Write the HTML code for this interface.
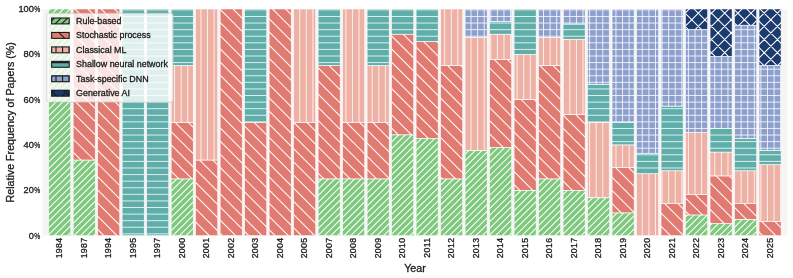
<!DOCTYPE html><html><head><meta charset="utf-8"><title>Relative Frequency of Papers by Year</title>
<style>html,body{margin:0;padding:0;background:#fff}svg{display:block}text{font-family:"Liberation Sans", sans-serif;fill:#1a1a1a;stroke:#1a1a1a;stroke-width:0.3px;stroke-linejoin:round}</style></head><body>
<svg width="793" height="278" viewBox="0 0 793 278">
<rect width="793" height="278" fill="#fff"/>
<rect x="42.3" y="9" width="744.9" height="226.6" fill="#f5f5f5"/>
<defs>
<clipPath id="c0"><rect x="48.7" y="9" width="22" height="226.6"/><rect x="73.2" y="160.07" width="22" height="75.53"/><rect x="171.18" y="178.95" width="22" height="56.65"/><rect x="318.14" y="178.95" width="22" height="56.65"/><rect x="342.64" y="178.95" width="22" height="56.65"/><rect x="367.13" y="178.95" width="22" height="56.65"/><rect x="391.63" y="134.89" width="22" height="100.71"/><rect x="416.12" y="138.49" width="22" height="97.11"/><rect x="440.62" y="178.95" width="22" height="56.65"/><rect x="465.12" y="150.62" width="22" height="84.97"/><rect x="489.61" y="147.48" width="22" height="88.12"/><rect x="514.11" y="190.28" width="22" height="45.32"/><rect x="538.6" y="178.95" width="22" height="56.65"/><rect x="563.1" y="190.28" width="22" height="45.32"/><rect x="587.59" y="197.83" width="22" height="37.77"/><rect x="612.09" y="212.94" width="22" height="22.66"/><rect x="685.57" y="215" width="22" height="20.6"/><rect x="710.07" y="223.67" width="22" height="11.93"/><rect x="734.56" y="219.41" width="22" height="16.19"/></clipPath>
<clipPath id="c1"><rect x="73.2" y="9" width="22" height="151.07"/><rect x="97.69" y="9" width="22" height="226.6"/><rect x="171.18" y="122.3" width="22" height="56.65"/><rect x="195.67" y="160.07" width="22" height="75.53"/><rect x="220.17" y="9" width="22" height="226.6"/><rect x="244.66" y="122.3" width="22" height="113.3"/><rect x="269.16" y="9" width="22" height="226.6"/><rect x="293.65" y="122.3" width="22" height="113.3"/><rect x="318.14" y="65.65" width="22" height="113.3"/><rect x="342.64" y="122.3" width="22" height="56.65"/><rect x="367.13" y="122.3" width="22" height="56.65"/><rect x="391.63" y="34.18" width="22" height="100.71"/><rect x="416.12" y="41.37" width="22" height="97.11"/><rect x="440.62" y="65.65" width="22" height="113.3"/><rect x="489.61" y="59.36" width="22" height="88.12"/><rect x="514.11" y="99.64" width="22" height="90.64"/><rect x="538.6" y="65.65" width="22" height="113.3"/><rect x="563.1" y="114.75" width="22" height="75.53"/><rect x="612.09" y="167.62" width="22" height="45.32"/><rect x="661.08" y="203.23" width="22" height="32.37"/><rect x="685.57" y="194.4" width="22" height="20.6"/><rect x="710.07" y="175.97" width="22" height="47.71"/><rect x="734.56" y="203.23" width="22" height="16.19"/><rect x="759.06" y="221.44" width="22" height="14.16"/></clipPath>
<clipPath id="c2"><rect x="171.18" y="65.65" width="22" height="56.65"/><rect x="195.67" y="9" width="22" height="151.07"/><rect x="293.65" y="9" width="22" height="113.3"/><rect x="342.64" y="9" width="22" height="113.3"/><rect x="367.13" y="65.65" width="22" height="56.65"/><rect x="440.62" y="9" width="22" height="56.65"/><rect x="465.12" y="37.32" width="22" height="113.3"/><rect x="489.61" y="34.18" width="22" height="25.18"/><rect x="514.11" y="54.32" width="22" height="45.32"/><rect x="538.6" y="37.32" width="22" height="28.33"/><rect x="563.1" y="39.21" width="22" height="75.53"/><rect x="587.59" y="122.3" width="22" height="75.53"/><rect x="612.09" y="144.96" width="22" height="22.66"/><rect x="636.58" y="173.8" width="22" height="61.8"/><rect x="661.08" y="170.86" width="22" height="32.37"/><rect x="685.57" y="132.6" width="22" height="61.8"/><rect x="710.07" y="152.12" width="22" height="23.85"/><rect x="734.56" y="170.86" width="22" height="32.37"/><rect x="759.06" y="164.79" width="22" height="56.65"/></clipPath>
<clipPath id="c3"><rect x="122.19" y="9" width="22" height="226.6"/><rect x="146.68" y="9" width="22" height="226.6"/><rect x="171.18" y="9" width="22" height="56.65"/><rect x="244.66" y="9" width="22" height="113.3"/><rect x="318.14" y="9" width="22" height="56.65"/><rect x="367.13" y="9" width="22" height="56.65"/><rect x="391.63" y="9" width="22" height="25.18"/><rect x="416.12" y="9" width="22" height="32.37"/><rect x="489.61" y="21.59" width="22" height="12.59"/><rect x="514.11" y="9" width="22" height="45.32"/><rect x="563.1" y="24.11" width="22" height="15.11"/><rect x="587.59" y="84.53" width="22" height="37.77"/><rect x="612.09" y="122.3" width="22" height="22.66"/><rect x="636.58" y="153.2" width="22" height="20.6"/><rect x="661.08" y="106.11" width="22" height="64.74"/><rect x="710.07" y="128.26" width="22" height="23.85"/><rect x="734.56" y="138.49" width="22" height="32.37"/><rect x="759.06" y="150.62" width="22" height="14.16"/></clipPath>
<clipPath id="c4"><rect x="465.12" y="9" width="22" height="28.32"/><rect x="489.61" y="9" width="22" height="12.59"/><rect x="538.6" y="9" width="22" height="28.32"/><rect x="563.1" y="9" width="22" height="15.11"/><rect x="587.59" y="9" width="22" height="75.53"/><rect x="612.09" y="9" width="22" height="113.3"/><rect x="636.58" y="9" width="22" height="144.2"/><rect x="661.08" y="9" width="22" height="97.11"/><rect x="685.57" y="29.6" width="22" height="103"/><rect x="710.07" y="56.71" width="22" height="71.56"/><rect x="734.56" y="25.19" width="22" height="113.3"/><rect x="759.06" y="65.65" width="22" height="84.97"/></clipPath>
<clipPath id="c5"><rect x="685.57" y="9" width="22" height="20.6"/><rect x="710.07" y="9" width="22" height="47.71"/><rect x="734.56" y="9" width="22" height="16.19"/><rect x="759.06" y="9" width="22" height="56.65"/></clipPath>
</defs>
<g>
<rect x="48.7" y="9" width="22" height="226.6" fill="#7fc97f"/>
<rect x="73.2" y="160.07" width="22" height="75.53" fill="#7fc97f"/>
<rect x="171.18" y="178.95" width="22" height="56.65" fill="#7fc97f"/>
<rect x="318.14" y="178.95" width="22" height="56.65" fill="#7fc97f"/>
<rect x="342.64" y="178.95" width="22" height="56.65" fill="#7fc97f"/>
<rect x="367.13" y="178.95" width="22" height="56.65" fill="#7fc97f"/>
<rect x="391.63" y="134.89" width="22" height="100.71" fill="#7fc97f"/>
<rect x="416.12" y="138.49" width="22" height="97.11" fill="#7fc97f"/>
<rect x="440.62" y="178.95" width="22" height="56.65" fill="#7fc97f"/>
<rect x="465.12" y="150.62" width="22" height="84.97" fill="#7fc97f"/>
<rect x="489.61" y="147.48" width="22" height="88.12" fill="#7fc97f"/>
<rect x="514.11" y="190.28" width="22" height="45.32" fill="#7fc97f"/>
<rect x="538.6" y="178.95" width="22" height="56.65" fill="#7fc97f"/>
<rect x="563.1" y="190.28" width="22" height="45.32" fill="#7fc97f"/>
<rect x="587.59" y="197.83" width="22" height="37.77" fill="#7fc97f"/>
<rect x="612.09" y="212.94" width="22" height="22.66" fill="#7fc97f"/>
<rect x="685.57" y="215" width="22" height="20.6" fill="#7fc97f"/>
<rect x="710.07" y="223.67" width="22" height="11.93" fill="#7fc97f"/>
<rect x="734.56" y="219.41" width="22" height="16.19" fill="#7fc97f"/>
<g clip-path="url(#c0)"><path d="M42.3 -2.77L787.2 -747.67M42.3 3.81L787.2 -741.09M42.3 10.4L787.2 -734.5M42.3 16.99L787.2 -727.91M42.3 23.58L787.2 -721.32M42.3 30.17L787.2 -714.73M42.3 36.75L787.2 -708.15M42.3 43.34L787.2 -701.56M42.3 49.93L787.2 -694.97M42.3 56.52L787.2 -688.38M42.3 63.11L787.2 -681.79M42.3 69.69L787.2 -675.21M42.3 76.28L787.2 -668.62M42.3 82.87L787.2 -662.03M42.3 89.46L787.2 -655.44M42.3 96.04L787.2 -648.86M42.3 102.63L787.2 -642.27M42.3 109.22L787.2 -635.68M42.3 115.81L787.2 -629.09M42.3 122.4L787.2 -622.5M42.3 128.98L787.2 -615.92M42.3 135.57L787.2 -609.33M42.3 142.16L787.2 -602.74M42.3 148.75L787.2 -596.15M42.3 155.33L787.2 -589.57M42.3 161.92L787.2 -582.98M42.3 168.51L787.2 -576.39M42.3 175.1L787.2 -569.8M42.3 181.69L787.2 -563.21M42.3 188.27L787.2 -556.63M42.3 194.86L787.2 -550.04M42.3 201.45L787.2 -543.45M42.3 208.04L787.2 -536.86M42.3 214.63L787.2 -530.27M42.3 221.21L787.2 -523.69M42.3 227.8L787.2 -517.1M42.3 234.39L787.2 -510.51M42.3 240.98L787.2 -503.92M42.3 247.56L787.2 -497.34M42.3 254.15L787.2 -490.75M42.3 260.74L787.2 -484.16M42.3 267.33L787.2 -477.57M42.3 273.92L787.2 -470.98M42.3 280.5L787.2 -464.4M42.3 287.09L787.2 -457.81M42.3 293.68L787.2 -451.22M42.3 300.27L787.2 -444.63M42.3 306.86L787.2 -438.04M42.3 313.44L787.2 -431.46M42.3 320.03L787.2 -424.87M42.3 326.62L787.2 -418.28M42.3 333.21L787.2 -411.69M42.3 339.79L787.2 -405.11M42.3 346.38L787.2 -398.52M42.3 352.97L787.2 -391.93M42.3 359.56L787.2 -385.34M42.3 366.15L787.2 -378.75M42.3 372.73L787.2 -372.17M42.3 379.32L787.2 -365.58M42.3 385.91L787.2 -358.99M42.3 392.5L787.2 -352.4M42.3 399.08L787.2 -345.82M42.3 405.67L787.2 -339.23M42.3 412.26L787.2 -332.64M42.3 418.85L787.2 -326.05M42.3 425.44L787.2 -319.46M42.3 432.02L787.2 -312.88M42.3 438.61L787.2 -306.29M42.3 445.2L787.2 -299.7M42.3 451.79L787.2 -293.11M42.3 458.38L787.2 -286.52M42.3 464.96L787.2 -279.94M42.3 471.55L787.2 -273.35M42.3 478.14L787.2 -266.76M42.3 484.73L787.2 -260.17M42.3 491.31L787.2 -253.59M42.3 497.9L787.2 -247M42.3 504.49L787.2 -240.41M42.3 511.08L787.2 -233.82M42.3 517.67L787.2 -227.23M42.3 524.25L787.2 -220.65M42.3 530.84L787.2 -214.06M42.3 537.43L787.2 -207.47M42.3 544.02L787.2 -200.88M42.3 550.61L787.2 -194.3M42.3 557.19L787.2 -187.71M42.3 563.78L787.2 -181.12M42.3 570.37L787.2 -174.53M42.3 576.96L787.2 -167.94M42.3 583.54L787.2 -161.36M42.3 590.13L787.2 -154.77M42.3 596.72L787.2 -148.18M42.3 603.31L787.2 -141.59M42.3 609.9L787.2 -135M42.3 616.48L787.2 -128.42M42.3 623.07L787.2 -121.83M42.3 629.66L787.2 -115.24M42.3 636.25L787.2 -108.65M42.3 642.83L787.2 -102.07M42.3 649.42L787.2 -95.48M42.3 656.01L787.2 -88.89M42.3 662.6L787.2 -82.3M42.3 669.19L787.2 -75.71M42.3 675.77L787.2 -69.13M42.3 682.36L787.2 -62.54M42.3 688.95L787.2 -55.95M42.3 695.54L787.2 -49.36M42.3 702.13L787.2 -42.77M42.3 708.71L787.2 -36.19M42.3 715.3L787.2 -29.6M42.3 721.89L787.2 -23.01M42.3 728.48L787.2 -16.42M42.3 735.06L787.2 -9.84M42.3 741.65L787.2 -3.25M42.3 748.24L787.2 3.34M42.3 754.83L787.2 9.93M42.3 761.42L787.2 16.52M42.3 768L787.2 23.1M42.3 774.59L787.2 29.69M42.3 781.18L787.2 36.28M42.3 787.77L787.2 42.87M42.3 794.35L787.2 49.45M42.3 800.94L787.2 56.04M42.3 807.53L787.2 62.63M42.3 814.12L787.2 69.22M42.3 820.71L787.2 75.81M42.3 827.29L787.2 82.39M42.3 833.88L787.2 88.98M42.3 840.47L787.2 95.57M42.3 847.06L787.2 102.16M42.3 853.65L787.2 108.75M42.3 860.23L787.2 115.33M42.3 866.82L787.2 121.92M42.3 873.41L787.2 128.51M42.3 880L787.2 135.1M42.3 886.58L787.2 141.68M42.3 893.17L787.2 148.27M42.3 899.76L787.2 154.86M42.3 906.35L787.2 161.45M42.3 912.94L787.2 168.04M42.3 919.52L787.2 174.62M42.3 926.11L787.2 181.21M42.3 932.7L787.2 187.8M42.3 939.29L787.2 194.39M42.3 945.88L787.2 200.97M42.3 952.46L787.2 207.56M42.3 959.05L787.2 214.15M42.3 965.64L787.2 220.74M42.3 972.23L787.2 227.33M42.3 978.81L787.2 233.91M42.3 985.4L787.2 240.5M42.3 991.99L787.2 247.09" stroke="#fff" stroke-width="1.05" fill="none"/></g>
</g>
<g>
<rect x="73.2" y="9" width="22" height="151.07" fill="#e17b71"/>
<rect x="97.69" y="9" width="22" height="226.6" fill="#e17b71"/>
<rect x="171.18" y="122.3" width="22" height="56.65" fill="#e17b71"/>
<rect x="195.67" y="160.07" width="22" height="75.53" fill="#e17b71"/>
<rect x="220.17" y="9" width="22" height="226.6" fill="#e17b71"/>
<rect x="244.66" y="122.3" width="22" height="113.3" fill="#e17b71"/>
<rect x="269.16" y="9" width="22" height="226.6" fill="#e17b71"/>
<rect x="293.65" y="122.3" width="22" height="113.3" fill="#e17b71"/>
<rect x="318.14" y="65.65" width="22" height="113.3" fill="#e17b71"/>
<rect x="342.64" y="122.3" width="22" height="56.65" fill="#e17b71"/>
<rect x="367.13" y="122.3" width="22" height="56.65" fill="#e17b71"/>
<rect x="391.63" y="34.18" width="22" height="100.71" fill="#e17b71"/>
<rect x="416.12" y="41.37" width="22" height="97.11" fill="#e17b71"/>
<rect x="440.62" y="65.65" width="22" height="113.3" fill="#e17b71"/>
<rect x="489.61" y="59.36" width="22" height="88.12" fill="#e17b71"/>
<rect x="514.11" y="99.64" width="22" height="90.64" fill="#e17b71"/>
<rect x="538.6" y="65.65" width="22" height="113.3" fill="#e17b71"/>
<rect x="563.1" y="114.75" width="22" height="75.53" fill="#e17b71"/>
<rect x="612.09" y="167.62" width="22" height="45.32" fill="#e17b71"/>
<rect x="661.08" y="203.23" width="22" height="32.37" fill="#e17b71"/>
<rect x="685.57" y="194.4" width="22" height="20.6" fill="#e17b71"/>
<rect x="710.07" y="175.97" width="22" height="47.71" fill="#e17b71"/>
<rect x="734.56" y="203.23" width="22" height="16.19" fill="#e17b71"/>
<rect x="759.06" y="221.44" width="22" height="14.16" fill="#e17b71"/>
<g clip-path="url(#c1)"><path d="M42.3 253.11L787.2 998.01M42.3 239.94L787.2 984.84M42.3 226.76L787.2 971.66M42.3 213.58L787.2 958.48M42.3 200.41L787.2 945.31M42.3 187.23L787.2 932.13M42.3 174.06L787.2 918.96M42.3 160.88L787.2 905.78M42.3 147.71L787.2 892.61M42.3 134.53L787.2 879.43M42.3 121.35L787.2 866.25M42.3 108.18L787.2 853.08M42.3 95L787.2 839.9M42.3 81.83L787.2 826.73M42.3 68.65L787.2 813.55M42.3 55.48L787.2 800.38M42.3 42.3L787.2 787.2M42.3 29.12L787.2 774.02M42.3 15.95L787.2 760.85M42.3 2.77L787.2 747.67M42.3 -10.4L787.2 734.5M42.3 -23.58L787.2 721.32M42.3 -36.75L787.2 708.15M42.3 -49.93L787.2 694.97M42.3 -63.11L787.2 681.79M42.3 -76.28L787.2 668.62M42.3 -89.46L787.2 655.44M42.3 -102.63L787.2 642.27M42.3 -115.81L787.2 629.09M42.3 -128.98L787.2 615.92M42.3 -142.16L787.2 602.74M42.3 -155.33L787.2 589.57M42.3 -168.51L787.2 576.39M42.3 -181.69L787.2 563.21M42.3 -194.86L787.2 550.04M42.3 -208.04L787.2 536.86M42.3 -221.21L787.2 523.69M42.3 -234.39L787.2 510.51M42.3 -247.56L787.2 497.34M42.3 -260.74L787.2 484.16M42.3 -273.92L787.2 470.98M42.3 -287.09L787.2 457.81M42.3 -300.27L787.2 444.63M42.3 -313.44L787.2 431.46M42.3 -326.62L787.2 418.28M42.3 -339.79L787.2 405.11M42.3 -352.97L787.2 391.93M42.3 -366.15L787.2 378.75M42.3 -379.32L787.2 365.58M42.3 -392.5L787.2 352.4M42.3 -405.67L787.2 339.23M42.3 -418.85L787.2 326.05M42.3 -432.02L787.2 312.88M42.3 -445.2L787.2 299.7M42.3 -458.38L787.2 286.52M42.3 -471.55L787.2 273.35M42.3 -484.73L787.2 260.17M42.3 -497.9L787.2 247M42.3 -511.08L787.2 233.82M42.3 -524.25L787.2 220.65M42.3 -537.43L787.2 207.47M42.3 -550.61L787.2 194.3M42.3 -563.78L787.2 181.12M42.3 -576.96L787.2 167.94M42.3 -590.13L787.2 154.77M42.3 -603.31L787.2 141.59M42.3 -616.48L787.2 128.42M42.3 -629.66L787.2 115.24M42.3 -642.83L787.2 102.07M42.3 -656.01L787.2 88.89M42.3 -669.19L787.2 75.71M42.3 -682.36L787.2 62.54M42.3 -695.54L787.2 49.36M42.3 -708.71L787.2 36.19M42.3 -721.89L787.2 23.01M42.3 -735.06L787.2 9.84M42.3 -748.24L787.2 -3.34M42.3 -761.42L787.2 -16.52" stroke="#fff" stroke-width="1.05" fill="none"/></g>
</g>
<g>
<rect x="171.18" y="65.65" width="22" height="56.65" fill="#eeb1a5"/>
<rect x="195.67" y="9" width="22" height="151.07" fill="#eeb1a5"/>
<rect x="293.65" y="9" width="22" height="113.3" fill="#eeb1a5"/>
<rect x="342.64" y="9" width="22" height="113.3" fill="#eeb1a5"/>
<rect x="367.13" y="65.65" width="22" height="56.65" fill="#eeb1a5"/>
<rect x="440.62" y="9" width="22" height="56.65" fill="#eeb1a5"/>
<rect x="465.12" y="37.32" width="22" height="113.3" fill="#eeb1a5"/>
<rect x="489.61" y="34.18" width="22" height="25.18" fill="#eeb1a5"/>
<rect x="514.11" y="54.32" width="22" height="45.32" fill="#eeb1a5"/>
<rect x="538.6" y="37.32" width="22" height="28.33" fill="#eeb1a5"/>
<rect x="563.1" y="39.21" width="22" height="75.53" fill="#eeb1a5"/>
<rect x="587.59" y="122.3" width="22" height="75.53" fill="#eeb1a5"/>
<rect x="612.09" y="144.96" width="22" height="22.66" fill="#eeb1a5"/>
<rect x="636.58" y="173.8" width="22" height="61.8" fill="#eeb1a5"/>
<rect x="661.08" y="170.86" width="22" height="32.37" fill="#eeb1a5"/>
<rect x="685.57" y="132.6" width="22" height="61.8" fill="#eeb1a5"/>
<rect x="710.07" y="152.12" width="22" height="23.85" fill="#eeb1a5"/>
<rect x="734.56" y="170.86" width="22" height="32.37" fill="#eeb1a5"/>
<rect x="759.06" y="164.79" width="22" height="56.65" fill="#eeb1a5"/>
<g clip-path="url(#c2)"><path d="M42.82 9L42.82 235.6M49.41 9L49.41 235.6M56 9L56 235.6M62.58 9L62.58 235.6M69.17 9L69.17 235.6M75.76 9L75.76 235.6M82.35 9L82.35 235.6M88.94 9L88.94 235.6M95.52 9L95.52 235.6M102.11 9L102.11 235.6M108.7 9L108.7 235.6M115.29 9L115.29 235.6M121.87 9L121.87 235.6M128.46 9L128.46 235.6M135.05 9L135.05 235.6M141.64 9L141.64 235.6M148.23 9L148.23 235.6M154.81 9L154.81 235.6M161.4 9L161.4 235.6M167.99 9L167.99 235.6M174.58 9L174.58 235.6M181.17 9L181.17 235.6M187.75 9L187.75 235.6M194.34 9L194.34 235.6M200.93 9L200.93 235.6M207.52 9L207.52 235.6M214.1 9L214.1 235.6M220.69 9L220.69 235.6M227.28 9L227.28 235.6M233.87 9L233.87 235.6M240.46 9L240.46 235.6M247.04 9L247.04 235.6M253.63 9L253.63 235.6M260.22 9L260.22 235.6M266.81 9L266.81 235.6M273.4 9L273.4 235.6M279.98 9L279.98 235.6M286.57 9L286.57 235.6M293.16 9L293.16 235.6M299.75 9L299.75 235.6M306.33 9L306.33 235.6M312.92 9L312.92 235.6M319.51 9L319.51 235.6M326.1 9L326.1 235.6M332.69 9L332.69 235.6M339.27 9L339.27 235.6M345.86 9L345.86 235.6M352.45 9L352.45 235.6M359.04 9L359.04 235.6M365.62 9L365.62 235.6M372.21 9L372.21 235.6M378.8 9L378.8 235.6M385.39 9L385.39 235.6M391.98 9L391.98 235.6M398.56 9L398.56 235.6M405.15 9L405.15 235.6M411.74 9L411.74 235.6M418.33 9L418.33 235.6M424.92 9L424.92 235.6M431.5 9L431.5 235.6M438.09 9L438.09 235.6M444.68 9L444.68 235.6M451.27 9L451.27 235.6M457.85 9L457.85 235.6M464.44 9L464.44 235.6M471.03 9L471.03 235.6M477.62 9L477.62 235.6M484.21 9L484.21 235.6M490.79 9L490.79 235.6M497.38 9L497.38 235.6M503.97 9L503.97 235.6M510.56 9L510.56 235.6M517.14 9L517.14 235.6M523.73 9L523.73 235.6M530.32 9L530.32 235.6M536.91 9L536.91 235.6M543.5 9L543.5 235.6M550.08 9L550.08 235.6M556.67 9L556.67 235.6M563.26 9L563.26 235.6M569.85 9L569.85 235.6M576.44 9L576.44 235.6M583.02 9L583.02 235.6M589.61 9L589.61 235.6M596.2 9L596.2 235.6M602.79 9L602.79 235.6M609.37 9L609.37 235.6M615.96 9L615.96 235.6M622.55 9L622.55 235.6M629.14 9L629.14 235.6M635.73 9L635.73 235.6M642.31 9L642.31 235.6M648.9 9L648.9 235.6M655.49 9L655.49 235.6M662.08 9L662.08 235.6M668.67 9L668.67 235.6M675.25 9L675.25 235.6M681.84 9L681.84 235.6M688.43 9L688.43 235.6M695.02 9L695.02 235.6M701.6 9L701.6 235.6M708.19 9L708.19 235.6M714.78 9L714.78 235.6M721.37 9L721.37 235.6M727.96 9L727.96 235.6M734.54 9L734.54 235.6M741.13 9L741.13 235.6M747.72 9L747.72 235.6M754.31 9L754.31 235.6M760.89 9L760.89 235.6M767.48 9L767.48 235.6M774.07 9L774.07 235.6M780.66 9L780.66 235.6M787.25 9L787.25 235.6" stroke="#fff" stroke-width="0.8" fill="none"/></g>
</g>
<g>
<rect x="122.19" y="9" width="22" height="226.6" fill="#5faeaa"/>
<rect x="146.68" y="9" width="22" height="226.6" fill="#5faeaa"/>
<rect x="171.18" y="9" width="22" height="56.65" fill="#5faeaa"/>
<rect x="244.66" y="9" width="22" height="113.3" fill="#5faeaa"/>
<rect x="318.14" y="9" width="22" height="56.65" fill="#5faeaa"/>
<rect x="367.13" y="9" width="22" height="56.65" fill="#5faeaa"/>
<rect x="391.63" y="9" width="22" height="25.18" fill="#5faeaa"/>
<rect x="416.12" y="9" width="22" height="32.37" fill="#5faeaa"/>
<rect x="489.61" y="21.59" width="22" height="12.59" fill="#5faeaa"/>
<rect x="514.11" y="9" width="22" height="45.32" fill="#5faeaa"/>
<rect x="563.1" y="24.11" width="22" height="15.11" fill="#5faeaa"/>
<rect x="587.59" y="84.53" width="22" height="37.77" fill="#5faeaa"/>
<rect x="612.09" y="122.3" width="22" height="22.66" fill="#5faeaa"/>
<rect x="636.58" y="153.2" width="22" height="20.6" fill="#5faeaa"/>
<rect x="661.08" y="106.11" width="22" height="64.74" fill="#5faeaa"/>
<rect x="710.07" y="128.26" width="22" height="23.85" fill="#5faeaa"/>
<rect x="734.56" y="138.49" width="22" height="32.37" fill="#5faeaa"/>
<rect x="759.06" y="150.62" width="22" height="14.16" fill="#5faeaa"/>
<g clip-path="url(#c3)"><path d="M42.3 233.87L787.2 233.87M42.3 227.28L787.2 227.28M42.3 220.69L787.2 220.69M42.3 214.1L787.2 214.1M42.3 207.52L787.2 207.52M42.3 200.93L787.2 200.93M42.3 194.34L787.2 194.34M42.3 187.75L787.2 187.75M42.3 181.17L787.2 181.17M42.3 174.58L787.2 174.58M42.3 167.99L787.2 167.99M42.3 161.4L787.2 161.4M42.3 154.81L787.2 154.81M42.3 148.23L787.2 148.23M42.3 141.64L787.2 141.64M42.3 135.05L787.2 135.05M42.3 128.46L787.2 128.46M42.3 121.87L787.2 121.87M42.3 115.29L787.2 115.29M42.3 108.7L787.2 108.7M42.3 102.11L787.2 102.11M42.3 95.52L787.2 95.52M42.3 88.94L787.2 88.94M42.3 82.35L787.2 82.35M42.3 75.76L787.2 75.76M42.3 69.17L787.2 69.17M42.3 62.58L787.2 62.58M42.3 56L787.2 56M42.3 49.41L787.2 49.41M42.3 42.82L787.2 42.82M42.3 36.23L787.2 36.23M42.3 29.65L787.2 29.65M42.3 23.06L787.2 23.06M42.3 16.47L787.2 16.47M42.3 9.88L787.2 9.88" stroke="#fff" stroke-width="0.8" fill="none"/></g>
</g>
<g>
<rect x="465.12" y="9" width="22" height="28.32" fill="#8da0cd"/>
<rect x="489.61" y="9" width="22" height="12.59" fill="#8da0cd"/>
<rect x="538.6" y="9" width="22" height="28.32" fill="#8da0cd"/>
<rect x="563.1" y="9" width="22" height="15.11" fill="#8da0cd"/>
<rect x="587.59" y="9" width="22" height="75.53" fill="#8da0cd"/>
<rect x="612.09" y="9" width="22" height="113.3" fill="#8da0cd"/>
<rect x="636.58" y="9" width="22" height="144.2" fill="#8da0cd"/>
<rect x="661.08" y="9" width="22" height="97.11" fill="#8da0cd"/>
<rect x="685.57" y="29.6" width="22" height="103" fill="#8da0cd"/>
<rect x="710.07" y="56.71" width="22" height="71.56" fill="#8da0cd"/>
<rect x="734.56" y="25.19" width="22" height="113.3" fill="#8da0cd"/>
<rect x="759.06" y="65.65" width="22" height="84.97" fill="#8da0cd"/>
<g clip-path="url(#c4)"><path d="M42.3 233.87L787.2 233.87M42.3 227.28L787.2 227.28M42.3 220.69L787.2 220.69M42.3 214.1L787.2 214.1M42.3 207.52L787.2 207.52M42.3 200.93L787.2 200.93M42.3 194.34L787.2 194.34M42.3 187.75L787.2 187.75M42.3 181.17L787.2 181.17M42.3 174.58L787.2 174.58M42.3 167.99L787.2 167.99M42.3 161.4L787.2 161.4M42.3 154.81L787.2 154.81M42.3 148.23L787.2 148.23M42.3 141.64L787.2 141.64M42.3 135.05L787.2 135.05M42.3 128.46L787.2 128.46M42.3 121.87L787.2 121.87M42.3 115.29L787.2 115.29M42.3 108.7L787.2 108.7M42.3 102.11L787.2 102.11M42.3 95.52L787.2 95.52M42.3 88.94L787.2 88.94M42.3 82.35L787.2 82.35M42.3 75.76L787.2 75.76M42.3 69.17L787.2 69.17M42.3 62.58L787.2 62.58M42.3 56L787.2 56M42.3 49.41L787.2 49.41M42.3 42.82L787.2 42.82M42.3 36.23L787.2 36.23M42.3 29.65L787.2 29.65M42.3 23.06L787.2 23.06M42.3 16.47L787.2 16.47M42.3 9.88L787.2 9.88M42.82 9L42.82 235.6M49.41 9L49.41 235.6M56 9L56 235.6M62.58 9L62.58 235.6M69.17 9L69.17 235.6M75.76 9L75.76 235.6M82.35 9L82.35 235.6M88.94 9L88.94 235.6M95.52 9L95.52 235.6M102.11 9L102.11 235.6M108.7 9L108.7 235.6M115.29 9L115.29 235.6M121.87 9L121.87 235.6M128.46 9L128.46 235.6M135.05 9L135.05 235.6M141.64 9L141.64 235.6M148.23 9L148.23 235.6M154.81 9L154.81 235.6M161.4 9L161.4 235.6M167.99 9L167.99 235.6M174.58 9L174.58 235.6M181.17 9L181.17 235.6M187.75 9L187.75 235.6M194.34 9L194.34 235.6M200.93 9L200.93 235.6M207.52 9L207.52 235.6M214.1 9L214.1 235.6M220.69 9L220.69 235.6M227.28 9L227.28 235.6M233.87 9L233.87 235.6M240.46 9L240.46 235.6M247.04 9L247.04 235.6M253.63 9L253.63 235.6M260.22 9L260.22 235.6M266.81 9L266.81 235.6M273.4 9L273.4 235.6M279.98 9L279.98 235.6M286.57 9L286.57 235.6M293.16 9L293.16 235.6M299.75 9L299.75 235.6M306.33 9L306.33 235.6M312.92 9L312.92 235.6M319.51 9L319.51 235.6M326.1 9L326.1 235.6M332.69 9L332.69 235.6M339.27 9L339.27 235.6M345.86 9L345.86 235.6M352.45 9L352.45 235.6M359.04 9L359.04 235.6M365.62 9L365.62 235.6M372.21 9L372.21 235.6M378.8 9L378.8 235.6M385.39 9L385.39 235.6M391.98 9L391.98 235.6M398.56 9L398.56 235.6M405.15 9L405.15 235.6M411.74 9L411.74 235.6M418.33 9L418.33 235.6M424.92 9L424.92 235.6M431.5 9L431.5 235.6M438.09 9L438.09 235.6M444.68 9L444.68 235.6M451.27 9L451.27 235.6M457.85 9L457.85 235.6M464.44 9L464.44 235.6M471.03 9L471.03 235.6M477.62 9L477.62 235.6M484.21 9L484.21 235.6M490.79 9L490.79 235.6M497.38 9L497.38 235.6M503.97 9L503.97 235.6M510.56 9L510.56 235.6M517.14 9L517.14 235.6M523.73 9L523.73 235.6M530.32 9L530.32 235.6M536.91 9L536.91 235.6M543.5 9L543.5 235.6M550.08 9L550.08 235.6M556.67 9L556.67 235.6M563.26 9L563.26 235.6M569.85 9L569.85 235.6M576.44 9L576.44 235.6M583.02 9L583.02 235.6M589.61 9L589.61 235.6M596.2 9L596.2 235.6M602.79 9L602.79 235.6M609.37 9L609.37 235.6M615.96 9L615.96 235.6M622.55 9L622.55 235.6M629.14 9L629.14 235.6M635.73 9L635.73 235.6M642.31 9L642.31 235.6M648.9 9L648.9 235.6M655.49 9L655.49 235.6M662.08 9L662.08 235.6M668.67 9L668.67 235.6M675.25 9L675.25 235.6M681.84 9L681.84 235.6M688.43 9L688.43 235.6M695.02 9L695.02 235.6M701.6 9L701.6 235.6M708.19 9L708.19 235.6M714.78 9L714.78 235.6M721.37 9L721.37 235.6M727.96 9L727.96 235.6M734.54 9L734.54 235.6M741.13 9L741.13 235.6M747.72 9L747.72 235.6M754.31 9L754.31 235.6M760.89 9L760.89 235.6M767.48 9L767.48 235.6M774.07 9L774.07 235.6M780.66 9L780.66 235.6M787.25 9L787.25 235.6" stroke="#fff" stroke-width="0.8" fill="none"/></g>
</g>
<g>
<rect x="685.57" y="9" width="22" height="20.6" fill="#1b3a6e"/>
<rect x="710.07" y="9" width="22" height="47.71" fill="#1b3a6e"/>
<rect x="734.56" y="9" width="22" height="16.19" fill="#1b3a6e"/>
<rect x="759.06" y="9" width="22" height="56.65" fill="#1b3a6e"/>
<g clip-path="url(#c5)"><path d="M42.3 -15.95L787.2 -760.85M42.3 -2.77L787.2 -747.67M42.3 10.4L787.2 -734.5M42.3 23.58L787.2 -721.32M42.3 36.75L787.2 -708.15M42.3 49.93L787.2 -694.97M42.3 63.11L787.2 -681.79M42.3 76.28L787.2 -668.62M42.3 89.46L787.2 -655.44M42.3 102.63L787.2 -642.27M42.3 115.81L787.2 -629.09M42.3 128.98L787.2 -615.92M42.3 142.16L787.2 -602.74M42.3 155.33L787.2 -589.57M42.3 168.51L787.2 -576.39M42.3 181.69L787.2 -563.21M42.3 194.86L787.2 -550.04M42.3 208.04L787.2 -536.86M42.3 221.21L787.2 -523.69M42.3 234.39L787.2 -510.51M42.3 247.56L787.2 -497.34M42.3 260.74L787.2 -484.16M42.3 273.92L787.2 -470.98M42.3 287.09L787.2 -457.81M42.3 300.27L787.2 -444.63M42.3 313.44L787.2 -431.46M42.3 326.62L787.2 -418.28M42.3 339.79L787.2 -405.11M42.3 352.97L787.2 -391.93M42.3 366.15L787.2 -378.75M42.3 379.32L787.2 -365.58M42.3 392.5L787.2 -352.4M42.3 405.67L787.2 -339.23M42.3 418.85L787.2 -326.05M42.3 432.02L787.2 -312.88M42.3 445.2L787.2 -299.7M42.3 458.38L787.2 -286.52M42.3 471.55L787.2 -273.35M42.3 484.73L787.2 -260.17M42.3 497.9L787.2 -247M42.3 511.08L787.2 -233.82M42.3 524.25L787.2 -220.65M42.3 537.43L787.2 -207.47M42.3 550.61L787.2 -194.3M42.3 563.78L787.2 -181.12M42.3 576.96L787.2 -167.94M42.3 590.13L787.2 -154.77M42.3 603.31L787.2 -141.59M42.3 616.48L787.2 -128.42M42.3 629.66L787.2 -115.24M42.3 642.83L787.2 -102.07M42.3 656.01L787.2 -88.89M42.3 669.19L787.2 -75.71M42.3 682.36L787.2 -62.54M42.3 695.54L787.2 -49.36M42.3 708.71L787.2 -36.19M42.3 721.89L787.2 -23.01M42.3 735.06L787.2 -9.84M42.3 748.24L787.2 3.34M42.3 761.42L787.2 16.52M42.3 774.59L787.2 29.69M42.3 787.77L787.2 42.87M42.3 800.94L787.2 56.04M42.3 814.12L787.2 69.22M42.3 827.29L787.2 82.39M42.3 840.47L787.2 95.57M42.3 853.65L787.2 108.75M42.3 866.82L787.2 121.92M42.3 880L787.2 135.1M42.3 893.17L787.2 148.27M42.3 906.35L787.2 161.45M42.3 919.52L787.2 174.62M42.3 932.7L787.2 187.8M42.3 945.88L787.2 200.97M42.3 959.05L787.2 214.15M42.3 972.23L787.2 227.33M42.3 985.4L787.2 240.5M42.3 998.58L787.2 253.68M42.3 253.11L787.2 998.01M42.3 239.94L787.2 984.84M42.3 226.76L787.2 971.66M42.3 213.58L787.2 958.48M42.3 200.41L787.2 945.31M42.3 187.23L787.2 932.13M42.3 174.06L787.2 918.96M42.3 160.88L787.2 905.78M42.3 147.71L787.2 892.61M42.3 134.53L787.2 879.43M42.3 121.35L787.2 866.25M42.3 108.18L787.2 853.08M42.3 95L787.2 839.9M42.3 81.83L787.2 826.73M42.3 68.65L787.2 813.55M42.3 55.48L787.2 800.38M42.3 42.3L787.2 787.2M42.3 29.12L787.2 774.02M42.3 15.95L787.2 760.85M42.3 2.77L787.2 747.67M42.3 -10.4L787.2 734.5M42.3 -23.58L787.2 721.32M42.3 -36.75L787.2 708.15M42.3 -49.93L787.2 694.97M42.3 -63.11L787.2 681.79M42.3 -76.28L787.2 668.62M42.3 -89.46L787.2 655.44M42.3 -102.63L787.2 642.27M42.3 -115.81L787.2 629.09M42.3 -128.98L787.2 615.92M42.3 -142.16L787.2 602.74M42.3 -155.33L787.2 589.57M42.3 -168.51L787.2 576.39M42.3 -181.69L787.2 563.21M42.3 -194.86L787.2 550.04M42.3 -208.04L787.2 536.86M42.3 -221.21L787.2 523.69M42.3 -234.39L787.2 510.51M42.3 -247.56L787.2 497.34M42.3 -260.74L787.2 484.16M42.3 -273.92L787.2 470.98M42.3 -287.09L787.2 457.81M42.3 -300.27L787.2 444.63M42.3 -313.44L787.2 431.46M42.3 -326.62L787.2 418.28M42.3 -339.79L787.2 405.11M42.3 -352.97L787.2 391.93M42.3 -366.15L787.2 378.75M42.3 -379.32L787.2 365.58M42.3 -392.5L787.2 352.4M42.3 -405.67L787.2 339.23M42.3 -418.85L787.2 326.05M42.3 -432.02L787.2 312.88M42.3 -445.2L787.2 299.7M42.3 -458.38L787.2 286.52M42.3 -471.55L787.2 273.35M42.3 -484.73L787.2 260.17M42.3 -497.9L787.2 247M42.3 -511.08L787.2 233.82M42.3 -524.25L787.2 220.65M42.3 -537.43L787.2 207.47M42.3 -550.61L787.2 194.3M42.3 -563.78L787.2 181.12M42.3 -576.96L787.2 167.94M42.3 -590.13L787.2 154.77M42.3 -603.31L787.2 141.59M42.3 -616.48L787.2 128.42M42.3 -629.66L787.2 115.24M42.3 -642.83L787.2 102.07M42.3 -656.01L787.2 88.89M42.3 -669.19L787.2 75.71M42.3 -682.36L787.2 62.54M42.3 -695.54L787.2 49.36M42.3 -708.71L787.2 36.19M42.3 -721.89L787.2 23.01M42.3 -735.06L787.2 9.84M42.3 -748.24L787.2 -3.34M42.3 -761.42L787.2 -16.52" stroke="#fff" stroke-width="1.05" fill="none"/></g>
</g>
<g fill="none" stroke="#fff" stroke-width="0.5">
<rect x="48.7" y="9" width="22" height="226.6"/>
<rect x="73.2" y="160.07" width="22" height="75.53"/>
<rect x="171.18" y="178.95" width="22" height="56.65"/>
<rect x="318.14" y="178.95" width="22" height="56.65"/>
<rect x="342.64" y="178.95" width="22" height="56.65"/>
<rect x="367.13" y="178.95" width="22" height="56.65"/>
<rect x="391.63" y="134.89" width="22" height="100.71"/>
<rect x="416.12" y="138.49" width="22" height="97.11"/>
<rect x="440.62" y="178.95" width="22" height="56.65"/>
<rect x="465.12" y="150.62" width="22" height="84.97"/>
<rect x="489.61" y="147.48" width="22" height="88.12"/>
<rect x="514.11" y="190.28" width="22" height="45.32"/>
<rect x="538.6" y="178.95" width="22" height="56.65"/>
<rect x="563.1" y="190.28" width="22" height="45.32"/>
<rect x="587.59" y="197.83" width="22" height="37.77"/>
<rect x="612.09" y="212.94" width="22" height="22.66"/>
<rect x="685.57" y="215" width="22" height="20.6"/>
<rect x="710.07" y="223.67" width="22" height="11.93"/>
<rect x="734.56" y="219.41" width="22" height="16.19"/>
<rect x="73.2" y="9" width="22" height="151.07"/>
<rect x="97.69" y="9" width="22" height="226.6"/>
<rect x="171.18" y="122.3" width="22" height="56.65"/>
<rect x="195.67" y="160.07" width="22" height="75.53"/>
<rect x="220.17" y="9" width="22" height="226.6"/>
<rect x="244.66" y="122.3" width="22" height="113.3"/>
<rect x="269.16" y="9" width="22" height="226.6"/>
<rect x="293.65" y="122.3" width="22" height="113.3"/>
<rect x="318.14" y="65.65" width="22" height="113.3"/>
<rect x="342.64" y="122.3" width="22" height="56.65"/>
<rect x="367.13" y="122.3" width="22" height="56.65"/>
<rect x="391.63" y="34.18" width="22" height="100.71"/>
<rect x="416.12" y="41.37" width="22" height="97.11"/>
<rect x="440.62" y="65.65" width="22" height="113.3"/>
<rect x="489.61" y="59.36" width="22" height="88.12"/>
<rect x="514.11" y="99.64" width="22" height="90.64"/>
<rect x="538.6" y="65.65" width="22" height="113.3"/>
<rect x="563.1" y="114.75" width="22" height="75.53"/>
<rect x="612.09" y="167.62" width="22" height="45.32"/>
<rect x="661.08" y="203.23" width="22" height="32.37"/>
<rect x="685.57" y="194.4" width="22" height="20.6"/>
<rect x="710.07" y="175.97" width="22" height="47.71"/>
<rect x="734.56" y="203.23" width="22" height="16.19"/>
<rect x="759.06" y="221.44" width="22" height="14.16"/>
<rect x="171.18" y="65.65" width="22" height="56.65"/>
<rect x="195.67" y="9" width="22" height="151.07"/>
<rect x="293.65" y="9" width="22" height="113.3"/>
<rect x="342.64" y="9" width="22" height="113.3"/>
<rect x="367.13" y="65.65" width="22" height="56.65"/>
<rect x="440.62" y="9" width="22" height="56.65"/>
<rect x="465.12" y="37.32" width="22" height="113.3"/>
<rect x="489.61" y="34.18" width="22" height="25.18"/>
<rect x="514.11" y="54.32" width="22" height="45.32"/>
<rect x="538.6" y="37.32" width="22" height="28.33"/>
<rect x="563.1" y="39.21" width="22" height="75.53"/>
<rect x="587.59" y="122.3" width="22" height="75.53"/>
<rect x="612.09" y="144.96" width="22" height="22.66"/>
<rect x="636.58" y="173.8" width="22" height="61.8"/>
<rect x="661.08" y="170.86" width="22" height="32.37"/>
<rect x="685.57" y="132.6" width="22" height="61.8"/>
<rect x="710.07" y="152.12" width="22" height="23.85"/>
<rect x="734.56" y="170.86" width="22" height="32.37"/>
<rect x="759.06" y="164.79" width="22" height="56.65"/>
<rect x="122.19" y="9" width="22" height="226.6"/>
<rect x="146.68" y="9" width="22" height="226.6"/>
<rect x="171.18" y="9" width="22" height="56.65"/>
<rect x="244.66" y="9" width="22" height="113.3"/>
<rect x="318.14" y="9" width="22" height="56.65"/>
<rect x="367.13" y="9" width="22" height="56.65"/>
<rect x="391.63" y="9" width="22" height="25.18"/>
<rect x="416.12" y="9" width="22" height="32.37"/>
<rect x="489.61" y="21.59" width="22" height="12.59"/>
<rect x="514.11" y="9" width="22" height="45.32"/>
<rect x="563.1" y="24.11" width="22" height="15.11"/>
<rect x="587.59" y="84.53" width="22" height="37.77"/>
<rect x="612.09" y="122.3" width="22" height="22.66"/>
<rect x="636.58" y="153.2" width="22" height="20.6"/>
<rect x="661.08" y="106.11" width="22" height="64.74"/>
<rect x="710.07" y="128.26" width="22" height="23.85"/>
<rect x="734.56" y="138.49" width="22" height="32.37"/>
<rect x="759.06" y="150.62" width="22" height="14.16"/>
<rect x="465.12" y="9" width="22" height="28.32"/>
<rect x="489.61" y="9" width="22" height="12.59"/>
<rect x="538.6" y="9" width="22" height="28.32"/>
<rect x="563.1" y="9" width="22" height="15.11"/>
<rect x="587.59" y="9" width="22" height="75.53"/>
<rect x="612.09" y="9" width="22" height="113.3"/>
<rect x="636.58" y="9" width="22" height="144.2"/>
<rect x="661.08" y="9" width="22" height="97.11"/>
<rect x="685.57" y="29.6" width="22" height="103"/>
<rect x="710.07" y="56.71" width="22" height="71.56"/>
<rect x="734.56" y="25.19" width="22" height="113.3"/>
<rect x="759.06" y="65.65" width="22" height="84.97"/>
<rect x="685.57" y="9" width="22" height="20.6"/>
<rect x="710.07" y="9" width="22" height="47.71"/>
<rect x="734.56" y="9" width="22" height="16.19"/>
<rect x="759.06" y="9" width="22" height="56.65"/>
</g>
<text y="238.65" font-size="8.6"><tspan x="28.7" textLength="5.15" lengthAdjust="spacingAndGlyphs">0</tspan><tspan x="34.2" textLength="6" lengthAdjust="spacingAndGlyphs">%</tspan></text>
<text y="193.33" font-size="8.6"><tspan x="23.55" textLength="10.3" lengthAdjust="spacingAndGlyphs">20</tspan><tspan x="34.2" textLength="6" lengthAdjust="spacingAndGlyphs">%</tspan></text>
<text y="148.01" font-size="8.6"><tspan x="23.55" textLength="10.3" lengthAdjust="spacingAndGlyphs">40</tspan><tspan x="34.2" textLength="6" lengthAdjust="spacingAndGlyphs">%</tspan></text>
<text y="102.69" font-size="8.6"><tspan x="23.55" textLength="10.3" lengthAdjust="spacingAndGlyphs">60</tspan><tspan x="34.2" textLength="6" lengthAdjust="spacingAndGlyphs">%</tspan></text>
<text y="57.37" font-size="8.6"><tspan x="23.55" textLength="10.3" lengthAdjust="spacingAndGlyphs">80</tspan><tspan x="34.2" textLength="6" lengthAdjust="spacingAndGlyphs">%</tspan></text>
<text y="12.05" font-size="8.6"><tspan x="18.4" textLength="15.45" lengthAdjust="spacingAndGlyphs">100</tspan><tspan x="34.2" textLength="6" lengthAdjust="spacingAndGlyphs">%</tspan></text>
<text transform="translate(62.4,237.5) rotate(-90) scale(1.04,1)" font-size="8.4" letter-spacing="0.35" text-anchor="end">1984</text>
<text transform="translate(86.9,237.5) rotate(-90) scale(1.04,1)" font-size="8.4" letter-spacing="0.35" text-anchor="end">1987</text>
<text transform="translate(111.39,237.5) rotate(-90) scale(1.04,1)" font-size="8.4" letter-spacing="0.35" text-anchor="end">1994</text>
<text transform="translate(135.88,237.5) rotate(-90) scale(1.04,1)" font-size="8.4" letter-spacing="0.35" text-anchor="end">1995</text>
<text transform="translate(160.38,237.5) rotate(-90) scale(1.04,1)" font-size="8.4" letter-spacing="0.35" text-anchor="end">1997</text>
<text transform="translate(184.88,237.5) rotate(-90) scale(1.04,1)" font-size="8.4" letter-spacing="0.35" text-anchor="end">2000</text>
<text transform="translate(209.37,237.5) rotate(-90) scale(1.04,1)" font-size="8.4" letter-spacing="0.35" text-anchor="end">2001</text>
<text transform="translate(233.87,237.5) rotate(-90) scale(1.04,1)" font-size="8.4" letter-spacing="0.35" text-anchor="end">2002</text>
<text transform="translate(258.36,237.5) rotate(-90) scale(1.04,1)" font-size="8.4" letter-spacing="0.35" text-anchor="end">2003</text>
<text transform="translate(282.86,237.5) rotate(-90) scale(1.04,1)" font-size="8.4" letter-spacing="0.35" text-anchor="end">2004</text>
<text transform="translate(307.35,237.5) rotate(-90) scale(1.04,1)" font-size="8.4" letter-spacing="0.35" text-anchor="end">2005</text>
<text transform="translate(331.84,237.5) rotate(-90) scale(1.04,1)" font-size="8.4" letter-spacing="0.35" text-anchor="end">2007</text>
<text transform="translate(356.34,237.5) rotate(-90) scale(1.04,1)" font-size="8.4" letter-spacing="0.35" text-anchor="end">2008</text>
<text transform="translate(380.83,237.5) rotate(-90) scale(1.04,1)" font-size="8.4" letter-spacing="0.35" text-anchor="end">2009</text>
<text transform="translate(405.33,237.5) rotate(-90) scale(1.04,1)" font-size="8.4" letter-spacing="0.35" text-anchor="end">2010</text>
<text transform="translate(429.82,237.5) rotate(-90) scale(1.04,1)" font-size="8.4" letter-spacing="0.35" text-anchor="end">2011</text>
<text transform="translate(454.32,237.5) rotate(-90) scale(1.04,1)" font-size="8.4" letter-spacing="0.35" text-anchor="end">2012</text>
<text transform="translate(478.81,237.5) rotate(-90) scale(1.04,1)" font-size="8.4" letter-spacing="0.35" text-anchor="end">2013</text>
<text transform="translate(503.31,237.5) rotate(-90) scale(1.04,1)" font-size="8.4" letter-spacing="0.35" text-anchor="end">2014</text>
<text transform="translate(527.81,237.5) rotate(-90) scale(1.04,1)" font-size="8.4" letter-spacing="0.35" text-anchor="end">2015</text>
<text transform="translate(552.3,237.5) rotate(-90) scale(1.04,1)" font-size="8.4" letter-spacing="0.35" text-anchor="end">2016</text>
<text transform="translate(576.8,237.5) rotate(-90) scale(1.04,1)" font-size="8.4" letter-spacing="0.35" text-anchor="end">2017</text>
<text transform="translate(601.29,237.5) rotate(-90) scale(1.04,1)" font-size="8.4" letter-spacing="0.35" text-anchor="end">2018</text>
<text transform="translate(625.79,237.5) rotate(-90) scale(1.04,1)" font-size="8.4" letter-spacing="0.35" text-anchor="end">2019</text>
<text transform="translate(650.28,237.5) rotate(-90) scale(1.04,1)" font-size="8.4" letter-spacing="0.35" text-anchor="end">2020</text>
<text transform="translate(674.78,237.5) rotate(-90) scale(1.04,1)" font-size="8.4" letter-spacing="0.35" text-anchor="end">2021</text>
<text transform="translate(699.27,237.5) rotate(-90) scale(1.04,1)" font-size="8.4" letter-spacing="0.35" text-anchor="end">2022</text>
<text transform="translate(723.77,237.5) rotate(-90) scale(1.04,1)" font-size="8.4" letter-spacing="0.35" text-anchor="end">2023</text>
<text transform="translate(748.26,237.5) rotate(-90) scale(1.04,1)" font-size="8.4" letter-spacing="0.35" text-anchor="end">2024</text>
<text transform="translate(772.76,237.5) rotate(-90) scale(1.04,1)" font-size="8.4" letter-spacing="0.35" text-anchor="end">2025</text>
<text x="415" y="271.5" font-size="10.7" text-anchor="middle">Year</text>
<text transform="translate(14.3,122.3) rotate(-90)" font-size="10.7" text-anchor="middle">Relative Frequency of Papers (%)</text>
<rect x="46.7" y="13.3" width="126.3" height="88.8" rx="2" ry="2" fill="#fff" fill-opacity="0.8" stroke="#c8c8c8" stroke-opacity="0.9" stroke-width="0.8"/>
<defs>
<clipPath id="l0"><rect x="51.65" y="18" width="17.55" height="5.9"/></clipPath>
<clipPath id="l1"><rect x="51.65" y="32.45" width="17.55" height="5.9"/></clipPath>
<clipPath id="l2"><rect x="51.65" y="46.9" width="17.55" height="5.9"/></clipPath>
<clipPath id="l3"><rect x="51.65" y="61.35" width="17.55" height="5.9"/></clipPath>
<clipPath id="l4"><rect x="51.65" y="75.8" width="17.55" height="5.9"/></clipPath>
<clipPath id="l5"><rect x="51.65" y="90.25" width="17.55" height="5.9"/></clipPath>
</defs>
<rect x="51.65" y="18" width="17.55" height="5.9" fill="#7fc97f"/>
<g clip-path="url(#l0)"><path d="M51.65 7.64L69.2 -9.91M51.65 14.23L69.2 -3.32M51.65 20.82L69.2 3.27M51.65 27.4L69.2 9.85M51.65 33.99L69.2 16.44M51.65 40.58L69.2 23.03M51.65 47.17L69.2 29.62M51.65 53.76L69.2 36.21" stroke="#1a1a1a" stroke-width="1.1" fill="none"/></g>
<rect x="51.65" y="18" width="17.55" height="5.9" fill="none" stroke="#1a1a1a" stroke-width="1.1"/>
<text x="76.1" y="23.8" font-size="8.9">Rule-based</text>
<rect x="51.65" y="32.45" width="17.55" height="5.9" fill="#e17b71"/>
<g clip-path="url(#l1)"><path d="M51.65 51.65L69.2 69.2M51.65 38.47L69.2 56.02M51.65 25.3L69.2 42.85M51.65 12.12L69.2 29.67M51.65 -1.05L69.2 16.5" stroke="#1a1a1a" stroke-width="1.1" fill="none"/></g>
<rect x="51.65" y="32.45" width="17.55" height="5.9" fill="none" stroke="#1a1a1a" stroke-width="1.1"/>
<text x="76.1" y="38.25" font-size="8.9">Stochastic process</text>
<rect x="51.65" y="46.9" width="17.55" height="5.9" fill="#eeb1a5"/>
<g clip-path="url(#l2)"><path d="M56 46.9L56 52.8M62.58 46.9L62.58 52.8M69.17 46.9L69.17 52.8" stroke="#1a1a1a" stroke-width="1.1" fill="none"/></g>
<rect x="51.65" y="46.9" width="17.55" height="5.9" fill="none" stroke="#1a1a1a" stroke-width="1.1"/>
<text x="76.1" y="52.7" font-size="8.9">Classical ML</text>
<rect x="51.65" y="61.35" width="17.55" height="5.9" fill="#5faeaa"/>
<g clip-path="url(#l3)"><path d="M51.65 62.58L69.2 62.58" stroke="#1a1a1a" stroke-width="1.1" fill="none"/></g>
<rect x="51.65" y="61.35" width="17.55" height="5.9" fill="none" stroke="#1a1a1a" stroke-width="1.1"/>
<text x="76.1" y="67.15" font-size="8.9">Shallow neural network</text>
<rect x="51.65" y="75.8" width="17.55" height="5.9" fill="#8da0cd"/>
<g clip-path="url(#l4)"><path d="M51.65 82.35L69.2 82.35M51.65 75.76L69.2 75.76M56 75.8L56 81.7M62.58 75.8L62.58 81.7M69.17 75.8L69.17 81.7" stroke="#1a1a1a" stroke-width="1.1" fill="none"/></g>
<rect x="51.65" y="75.8" width="17.55" height="5.9" fill="none" stroke="#1a1a1a" stroke-width="1.1"/>
<text x="76.1" y="81.6" font-size="8.9">Task-specific DNN</text>
<rect x="51.65" y="90.25" width="17.55" height="5.9" fill="#1b3a6e"/>
<g clip-path="url(#l5)"><path d="M51.65 66.93L69.2 49.38M51.65 80.11L69.2 62.56M51.65 93.28L69.2 75.73M51.65 106.46L69.2 88.91M51.65 119.63L69.2 102.08M51.65 132.81L69.2 115.26M51.65 117.53L69.2 135.08M51.65 104.35L69.2 121.9M51.65 91.18L69.2 108.73M51.65 78L69.2 95.55M51.65 64.83L69.2 82.38M51.65 51.65L69.2 69.2" stroke="#1a1a1a" stroke-width="1.1" fill="none"/></g>
<rect x="51.65" y="90.25" width="17.55" height="5.9" fill="none" stroke="#1a1a1a" stroke-width="1.1"/>
<text x="76.1" y="96.05" font-size="8.9">Generative AI</text>
</svg></body></html>
